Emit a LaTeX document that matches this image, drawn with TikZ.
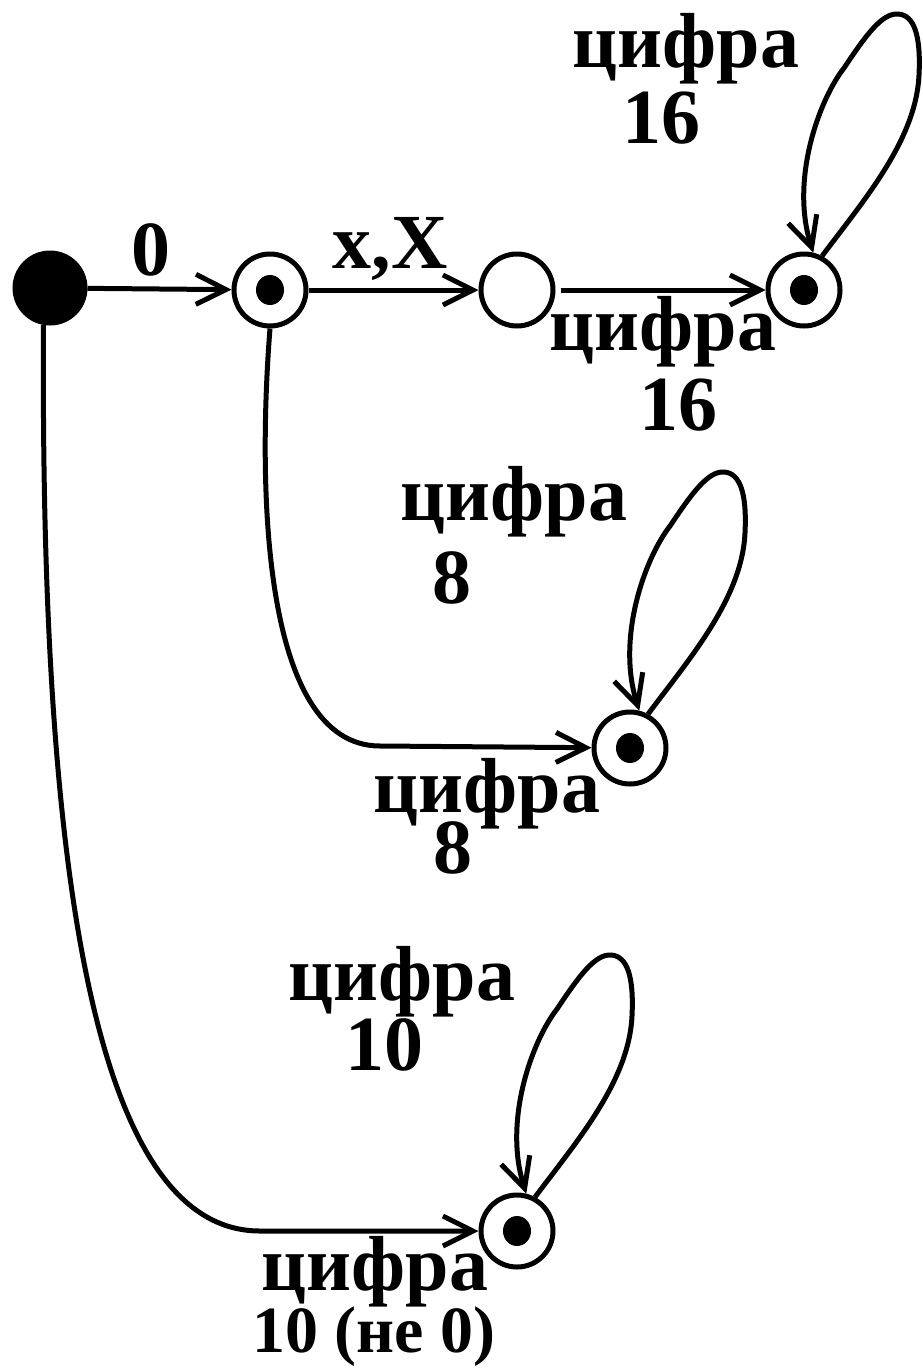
\documentclass[tikz,border=0pt]{standalone}
\usepackage{fontspec}
\setmainfont{Liberation Serif}
\usetikzlibrary{arrows.meta,calc}

\tikzset{
  stateline/.style={line width=5pt},
  statebox/.style={circle, draw, stateline, minimum size=72pt, inner sep=0pt},
  initstate/.style={circle, fill=black, draw, stateline, minimum size=70pt, inner sep=0pt},
  acceptstate/.style={statebox,
    path picture={\fill (path picture bounding box.center) ellipse (14pt and 15pt);}},
  edge/.style={line width=5pt, -{Straight Barb[length=30pt,width=30pt,line width=5pt]}},
  lbl/.style={anchor=base, inner sep=0pt, font=\bfseries\fontsize{78}{80}\selectfont},
  smalllbl/.style={lbl, font=\bfseries\fontsize{66}{70}\selectfont},
}

% self-loop drawn above a state, leaving and entering at its top
\newcommand\stateloop[1]{%
  \draw[edge] (#1.62)
    .. controls ($(#1)+(60,-90)$)  and ($(#1)+(112,-150)$) .. ($(#1)+(115,-215)$)
    .. controls ($(#1)+(117,-255)$) and ($(#1)+(110,-275)$) .. ($(#1)+(94,-276)$)
    .. controls ($(#1)+(78,-277)$)  and ($(#1)+(62,-255)$)  .. ($(#1)+(40,-222)$)
    .. controls ($(#1)+(15,-190)$)  and ($(#1)+(-14,-110)$) .. (#1.76);}

\begin{document}
\begin{tikzpicture}[x=1pt, y=-1pt]
\useasboundingbox (0,0) rectangle (923,1368);

% states
\node[initstate]   (s)   at (50,288)  {};
\node[acceptstate] (q1)  at (270,290) {};
\node[statebox]    (q2)  at (517,290) {};
\node[acceptstate] (q16) at (804,290) {};
\node[acceptstate] (q8)  at (630,748) {};
\node[acceptstate] (q10) at (517,1231) {};

% transitions
\draw[edge] (s) -- (q1);
\draw[edge] (q1) -- (q2);
\draw[edge, shorten <=5pt] (q2) -- (q16);
\draw[edge] (q1.south) .. controls (258,480) and (260,746) .. (380,746) -- (q8);
\draw[edge] (s.-100) .. controls (40,900) and (100,1231) .. (260,1231) -- (q10);

\stateloop{q16}
\stateloop{q8}
\stateloop{q10}

% labels
\node[lbl] (l0)   at (151,275) {0};
\node[lbl] (lx)   at (390,268) {x,X};

\node[lbl] (l16a) at (686,67)  {цифра};
\node[lbl] (l16b) at (661,143) {16};
\node[lbl] (l16c) at (663,350) {цифра};
\node[lbl] (l16d) at (678,430) {16};

\node[lbl] (l8a)  at (514,520) {цифра};
\node[lbl] (l8b)  at (452,603) {8};
\node[lbl] (l8c)  at (487,812) {цифра};
\node[lbl] (l8d)  at (453,873) {8};

\node[lbl] (l10a) at (402,1000) {цифра};
\node[lbl] (l10b) at (384,1070) {10};
\node[lbl] (l10c) at (375,1290) {цифра};
\node[smalllbl] (l10d) at (374,1352) {10 (не 0)};
\end{tikzpicture}
\end{document}
